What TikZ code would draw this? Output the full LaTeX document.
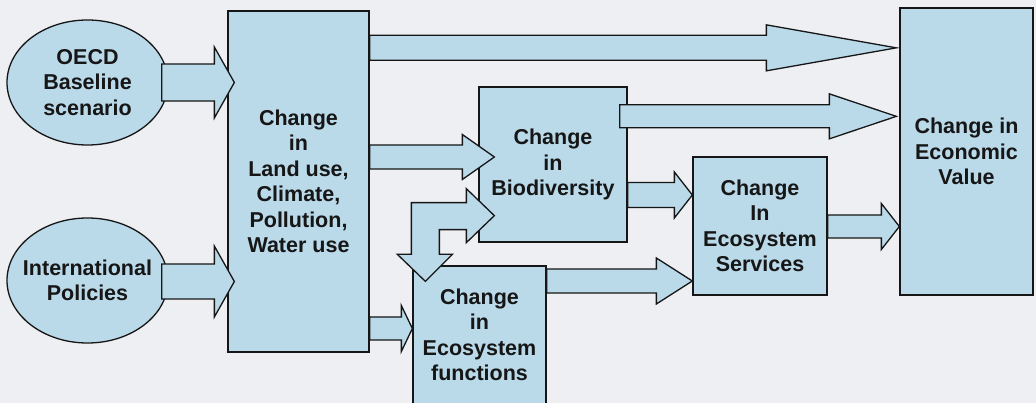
\documentclass[tikz,border=0pt]{standalone}
\usepackage{fontspec}
\setmainfont{Liberation Sans}
\usetikzlibrary{shapes.geometric,calc}
\definecolor{boxblue}{RGB}{186,217,233}
\definecolor{paper}{RGB}{237,239,242}
\definecolor{ink}{RGB}{22,22,22}
\begin{document}
\begin{tikzpicture}[x=1pt,y=-1pt,
  block/.style={draw=ink, line width=1.3pt, fill=boxblue, line join=miter},
  lbl/.style={block, inner sep=0pt, align=center, text=ink,
    font=\fontsize{21.5}{25.5}\selectfont\bfseries},
  oval/.style={lbl, ellipse, inner xsep=-8pt, minimum width=161, minimum height=125},
  panel/.style={lbl, rectangle},
  % horizontal block arrow: body half-width, head half-width, head length
  barrow/.style n args={3}{to path={
    ($(\tikztostart |- \tikztotarget)+(0,-#1)$)
    -- ($(\tikztotarget)+(-#3,-#1)$) -- ($(\tikztotarget)+(-#3,-#2)$)
    -- (\tikztotarget)
    -- ($(\tikztotarget)+(-#3,#2)$) -- ($(\tikztotarget)+(-#3,#1)$)
    -- ($(\tikztostart |- \tikztotarget)+(0,#1)$) -- cycle}}]

% background
\fill[paper] (0,0) rectangle (1036,403);
\path[use as bounding box] (0,0) rectangle (1036,403);

\begin{scope}
\clip (0,0) rectangle (1036,403);

% drivers
\node[oval] (oecd) at (87.5,82.5) {OECD\\Baseline\\scenario};
\node[oval] (intl) at (87.5,280.5) {International\\Policies};

% boxes
\node[panel, minimum width=141, minimum height=341] (land) at (298.5,181.5)
  {Change\\in\\Land use,\\Climate,\\Pollution,\\Water use};
\node[panel, minimum width=148, minimum height=155] (bio) at (553,164.5)
  {Change\\in\\Biodiversity};
\node[panel, minimum width=134, minimum height=138] (serv) at (760,226)
  {Change\\In\\Ecosystem\\Services};
\node[panel, minimum width=133, minimum height=138] (func) at (479.5,335)
  {Change\\in\\Ecosystem\\functions};
\node[panel, minimum width=133, minimum height=287] (econ) at (966.5,151.5)
  {Change in\\Economic\\Value};

% arrow end points
\coordinate (a1s) at ($(oecd.east)+(-7,0)$);
\coordinate (a1t) at ($(land.west |- oecd.east)+(7,0)$);
\coordinate (a2s) at ($(intl.east)+(-7,1)$);
\coordinate (a2t) at ($(land.west |- intl.east)+(7,1)$);
\coordinate (a3s) at ($(land.north east)+(0,37.5)$);
\coordinate (a3t) at ($(econ.west |- a3s)+(-3,0)$);
\coordinate (a4s) at ($(bio.north east)+(-8,30)$);
\coordinate (a4t) at ($(econ.west |- a4s)+(-3,0)$);
\coordinate (a5t) at ($(bio.west)+(16,-7.5)$);
\coordinate (a5s) at (land.east |- a5t);
\coordinate (a6t) at ($(serv.west)+(0,-31)$);
\coordinate (a6s) at (bio.east |- a6t);
\coordinate (a7t) at ($(econ.west |- serv.east)+(0,0.5)$);
\coordinate (a7s) at (serv.east |- a7t);
\coordinate (a8t) at ($(serv.west)+(0,55)$);
\coordinate (a8s) at (func.east |- a8t);
\coordinate (a9t) at ($(func.west)+(0,-6.5)$);
\coordinate (a9s) at (land.east |- a9t);

% block arrows
\draw[block] (a1s) to[barrow={18.5}{35.5}{20}] (a1t);
\draw[block] (a2s) to[barrow={17.5}{35.5}{20}] (a2t);
\draw[block] (a3s) to[barrow={12.5}{23}{130}] (a3t);
\draw[block] (a4s) to[barrow={11.5}{22.5}{67}] (a4t);
\draw[block] (a5s) to[barrow={12}{22.5}{32}] (a5t);
\draw[block] (a6s) to[barrow={12.5}{23}{18}] (a6t);
\draw[block] (a7s) to[barrow={11.5}{23}{18}] (a7t);
\draw[block] (a8s) to[barrow={12}{23}{36}] (a8t);
\draw[block] (a9s) to[barrow={11.5}{23}{11}] (a9t);

% two-way bent arrow between functions and biodiversity
\coordinate (ua) at ($(func.north west)+(13,16)$);
\coordinate (ub) at ($(bio.south west)+(16,-27)$);
\draw[block] ($(ua)+(-14,-27)$) |- ($(ub)+(-28,-13)$)
  -- ($(ub)+(-28,-27)$) -- (ub) -- ($(ub)+(-28,27)$)
  -- ($(ub)+(-28,14)$) -| ($(ua)+(14,-27)$)
  -- ($(ua)+(27,-27)$) -- (ua) -- ($(ua)+(-28,-27)$) -- cycle;
\end{scope}
\end{tikzpicture}
\end{document}
